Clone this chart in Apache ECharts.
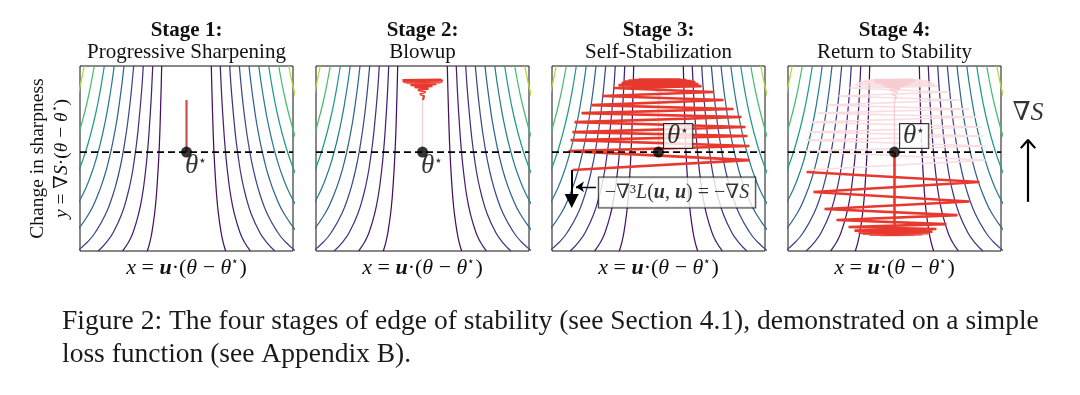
<!DOCTYPE html>
<html><head><meta charset="utf-8">
<script src="https://cdn.jsdelivr.net/npm/echarts@6/dist/echarts.min.js"></script>
<style>html,body{margin:0;padding:0;background:#fff}#c{width:1080px;height:395px}</style>
</head><body><div id="c"></div>
<script>
// ---------- data ----------
const stageTitles = ['Stage 1:', 'Stage 2:', 'Stage 3:', 'Stage 4:'];
const stageSubtitles = ['Progressive Sharpening', 'Blowup', 'Self-Stabilization', 'Return to Stability'];
const captionLines = ['Figure 2: The four stages of edge of stability (see Section 4.1), demonstrated on a simple', 'loss function (see Appendix B).'];

// right half of each loss contour [x, y]; the left half is its mirror image
const contourCurves = [
 [[0.233,0.87],[0.237,0.683],[0.242,0.496],[0.247,0.309],[0.253,0.122],[0.261,-0.065],[0.271,-0.252],[0.283,-0.439],[0.300,-0.626],[0.325,-0.813],[0.343,-0.907],[0.368,-1.0]],
 [[0.317,0.87],[0.325,0.683],[0.334,0.496],[0.345,0.309],[0.357,0.122],[0.372,-0.065],[0.391,-0.252],[0.415,-0.439],[0.450,-0.626],[0.502,-0.813],[0.542,-0.907],[0.600,-1.0]],
 [[0.406,0.87],[0.417,0.683],[0.431,0.496],[0.447,0.309],[0.465,0.122],[0.488,-0.065],[0.516,-0.252],[0.555,-0.439],[0.608,-0.626],[0.688,-0.813],[0.748,-0.907],[0.830,-1.0]],
 [[0.496,0.87],[0.512,0.683],[0.530,0.496],[0.551,0.309],[0.576,0.122],[0.606,-0.065],[0.644,-0.252],[0.693,-0.439],[0.759,-0.626],[0.857,-0.813],[0.928,-0.907],[1.025,-1.0]],
 [[0.587,0.87],[0.607,0.683],[0.630,0.496],[0.656,0.309],[0.688,0.122],[0.726,-0.065],[0.773,-0.252],[0.835,-0.439],[0.918,-0.626],[1.042,-0.813]],
 [[0.679,0.87],[0.703,0.683],[0.731,0.496],[0.763,0.309],[0.801,0.122],[0.847,-0.065],[0.904,-0.252],[0.978,-0.439],[1.079,-0.626]],
 [[0.772,0.87],[0.800,0.683],[0.832,0.496],[0.870,0.309],[0.915,0.122],[0.969,-0.065],[1.036,-0.252]],
 [[0.866,0.87],[0.898,0.683],[0.935,0.496],[0.979,0.309],[1.030,0.122]],
 [[0.960,0.87],[0.996,0.683],[1.038,0.496]]
];
const contourColors = ['#45105f','#46206f','#43327d','#3b4a88','#31638c','#277d8c','#209a87','#45bd6f','#aadb33'];

const thetaStar = [[0, 0]];
const zeroLine = [[-1, 0], [1, 0]];
const stage1Path = [[0, 0], [0, 0.526]];
const blowupStem = [[0, 0], [0, 0.526]];
const blowupFunnel = [[0.005,0.526],[-0.009,0.546],[0.014,0.566],[-0.023,0.586],[0.028,0.607],[-0.042,0.627],[0.056,0.642],[-0.075,0.657],[0.094,0.667],[-0.113,0.677],[0.131,0.687],[-0.150,0.698],[0.169,0.703],[-0.178,0.708],[0.188,0.713],[-0.188,0.718],[0.192,0.723],[-0.188,0.728],[0.178,0.733]];
const stage3Path = [[-0.188,0.733],[0.207,0.733],[-0.235,0.728],[0.263,0.728],[-0.282,0.723],[0.310,0.718],[-0.319,0.713],[0.347,0.708],[-0.347,0.698],[0.376,0.687],[-0.376,0.677],[0.404,0.667],[-0.423,0.647],[0.516,0.607],[-0.526,0.566],[0.610,0.526],[-0.629,0.475],[0.704,0.435],[-0.723,0.394],[0.779,0.354],[-0.789,0.303],[0.817,0.253],[-0.808,0.202],[0.836,0.162],[-0.826,0.121],[0.854,0.061],[-0.845,0.010],[0.854,-0.081],[-0.808,-0.182]];
const stage4Path = [[-0.826,-0.202],[0.798,-0.303],[-0.761,-0.404],[0.704,-0.500],[-0.657,-0.576],[0.592,-0.637],[-0.545,-0.687],[0.488,-0.728],[-0.432,-0.758],[0.394,-0.778],[-0.376,-0.794],[0.357,-0.804],[-0.338,-0.814],[0.319,-0.819],[-0.300,-0.824],[0.263,-0.829],[-0.235,-0.834],[0.188,-0.834],[-0.131,-0.839],[0.075,-0.839],[0,-0.839]];
const stage4Stem = [[0, 0], [0, -0.809]];
const descentArrow = [[-0.815, -0.182], [-0.815, -0.495]];
const pointerArrow = [[-0.587, -0.351], [-0.775, -0.351]];
const gradBoxAnchor = [[0.174, -0.409]];
const sideArrowShaft = [[0.5, -0.503], [0.5, 0.121]];
const sideArrowHead = [[0.32, 0.040], [0.5, 0.121], [0.68, 0.040]];
const sideArrowLabel = [[0.5, 0.394]];

// ---------- chart ----------
const SERIF = '"Liberation Serif","Times New Roman","DejaVu Serif",serif';
const panelLeft = [80, 316, 552, 788];
const RED = '#e8392e', PALE = '#f6cdd0', PALER = '#f9dde0';

const grid = panelLeft.map(l => ({left: l, top: 66, width: 213, height: 185, show: true, borderColor: '#111', borderWidth: 1, backgroundColor: 'transparent'}));
grid.push({left: 1008, top: 66, width: 40, height: 185, show: false});

const hidden = {axisLine: {show: false}, axisTick: {show: false}, axisLabel: {show: false}, splitLine: {show: false}};
function mathRich(fs) {
  return {
    it: {fontFamily: SERIF, fontStyle: 'italic', fontSize: fs, lineHeight: 24},
    bi: {fontFamily: SERIF, fontStyle: 'italic', fontWeight: 'bold', fontSize: fs, lineHeight: 24},
    sp: {fontFamily: SERIF, fontSize: Math.round(fs * 0.55), lineHeight: 24, verticalAlign: 'top'},
    n: {fontFamily: SERIF, fontSize: fs, lineHeight: 24}
  };
}
const xAxis = [];
panelLeft.forEach((l, i) => xAxis.push(Object.assign({type: 'value', gridIndex: i, min: -1, max: 1, position: 'bottom',
  name: '{it|x} = {bi|u}·({it|θ} − {it|θ}{sp|⋆})', nameLocation: 'middle', nameGap: 5,
  nameTextStyle: {fontFamily: SERIF, fontSize: 22, lineHeight: 24, color: '#111', rich: mathRich(22)}}, hidden)));
panelLeft.forEach((l, i) => xAxis.push(Object.assign({type: 'value', gridIndex: i, min: -1, max: 1, position: 'top',
  name: '{b|' + stageTitles[i] + '}\n{n|' + stageSubtitles[i] + '}', nameLocation: 'middle', nameGap: 3,
  nameTextStyle: {color: '#111', rich: {
    b: {fontFamily: SERIF, fontWeight: 'bold', fontSize: 21, lineHeight: 21, color: '#111'},
    n: {fontFamily: SERIF, fontSize: 21, lineHeight: 22, color: '#111'}}}}, hidden)));
xAxis.push(Object.assign({type: 'value', gridIndex: 4, min: 0, max: 1}, hidden));

const yAxis = [0, 1, 2, 3, 4].map(i => Object.assign({type: 'value', gridIndex: i, min: -1, max: 0.87}, hidden));
yAxis[0].name = '{n|Change in sharpness}\n{it|y} = ∇{it|S}·({it|θ} − {it|θ}{sp|⋆})';
yAxis[0].nameLocation = 'middle';
yAxis[0].nameGap = 6;
yAxis[0].nameTextStyle = {fontFamily: SERIF, fontSize: 19.5, lineHeight: 24, color: '#111', rich: mathRich(19.5)};

const series = [];
function line(g, data, color, width, z, extra) {
  return Object.assign({type: 'line', xAxisIndex: g, yAxisIndex: g, data: data, symbol: 'none', silent: true,
    lineStyle: {color: color, width: width}, z: z, animation: false}, extra || {});
}
for (let g = 0; g < 4; g++) {
  contourCurves.forEach((curve, k) => {
    series.push(line(g, curve, contourColors[k], 1.25, 1, {smooth: true}));
    series.push(line(g, curve.map(p => [-p[0], p[1]]), contourColors[k], 1.25, 1, {smooth: true}));
  });
}
series.push(line(0, stage1Path, '#c9514d', 2.2, 4));
series.push(line(1, blowupStem, PALE, 1.2, 3));
series.push(line(1, blowupFunnel, RED, 2.2, 4));
series.push(line(2, blowupStem, PALE, 1.2, 3));
series.push(line(2, blowupFunnel, PALE, 2.0, 3));
series.push(line(2, stage3Path, RED, 2.6, 4));
series.push(line(3, blowupStem, PALE, 1.4, 3));
series.push(line(3, blowupFunnel, PALE, 2.0, 3));
series.push(line(3, stage3Path, PALER, 1.6, 2));
series.push(line(3, stage4Stem, RED, 2.6, 4));
series.push(line(3, stage4Path, RED, 2.6, 4));
for (let g = 0; g < 4; g++) {
  series.push(line(g, zeroLine, '#000', 1.7, 6, {lineStyle: {color: '#000', width: 1.7, type: [7, 4]}}));
  const boxed = g >= 2;
  series.push({type: 'scatter', xAxisIndex: g, yAxisIndex: g, data: thetaStar, symbolSize: 11, itemStyle: {color: '#000'}, z: 10, silent: true, animation: false,
    label: Object.assign({show: true, position: 'right', distance: 0, offset: boxed ? [0, -16] : [-7, 14],
      formatter: '{t|θ}{s|⋆}', rich: {
        t: {fontFamily: SERIF, fontStyle: 'italic', fontSize: 27, lineHeight: 24, color: '#000'},
        s: {fontFamily: SERIF, fontSize: 14, lineHeight: 24, verticalAlign: 'top', color: '#000'}}},
      boxed ? {backgroundColor: '#fff', borderColor: '#000', borderWidth: 1, padding: [0, 3, 0, 3]} : {})});
}
// annotations in Stage 3
series.push({type: 'lines', coordinateSystem: 'cartesian2d', xAxisIndex: 2, yAxisIndex: 2, z: 8, silent: true, animation: false,
  data: [{coords: descentArrow}], symbol: ['none', 'triangle'], symbolSize: [13, 14], lineStyle: {color: '#000', width: 2, opacity: 1}});
series.push({type: 'lines', coordinateSystem: 'cartesian2d', xAxisIndex: 2, yAxisIndex: 2, z: 8, silent: true, animation: false,
  data: [{coords: pointerArrow}], symbol: ['none', 'arrow'], symbolSize: [7, 8], lineStyle: {color: '#000', width: 1.4, opacity: 1}});
series.push({type: 'scatter', xAxisIndex: 2, yAxisIndex: 2, data: gradBoxAnchor, symbolSize: 1, itemStyle: {color: 'transparent'}, z: 9, silent: true, animation: false,
  label: {show: true, position: 'inside', formatter: '−∇³{it|L}({bi|u}, {bi|u}) = −∇{it|S}', fontFamily: SERIF, fontSize: 20, lineHeight: 24, color: '#000',
    backgroundColor: '#fff', borderColor: '#000', borderWidth: 1, padding: [3, 6, 3, 6], rich: mathRich(20)}});
// side arrow
series.push(line(4, sideArrowShaft, '#000', 2.2, 5));
series.push(line(4, sideArrowHead, '#000', 2.2, 5));
series.push({type: 'scatter', xAxisIndex: 8, yAxisIndex: 4, data: sideArrowLabel, symbolSize: 1, itemStyle: {color: 'transparent'}, silent: true, animation: false,
  label: {show: true, position: 'inside', formatter: '∇{it|S}', fontFamily: SERIF, fontSize: 26, color: '#000',
    rich: {it: {fontFamily: SERIF, fontStyle: 'italic', fontSize: 26}}}});
series.forEach(s => { if (s.yAxisIndex === 4) s.xAxisIndex = 8; });

const chart = echarts.init(document.getElementById('c'), null, {renderer: 'canvas'});
chart.setOption({
  backgroundColor: '#fff',
  animation: false,
  title: [{text: captionLines.join('\n'), left: 62, top: 305, padding: 0,
    textStyle: {fontFamily: SERIF, fontSize: 27.5, fontWeight: 'normal', lineHeight: 33, color: '#1a1a1a'}}],
  grid: grid, xAxis: xAxis, yAxis: yAxis, series: series
});
</script></body></html>
